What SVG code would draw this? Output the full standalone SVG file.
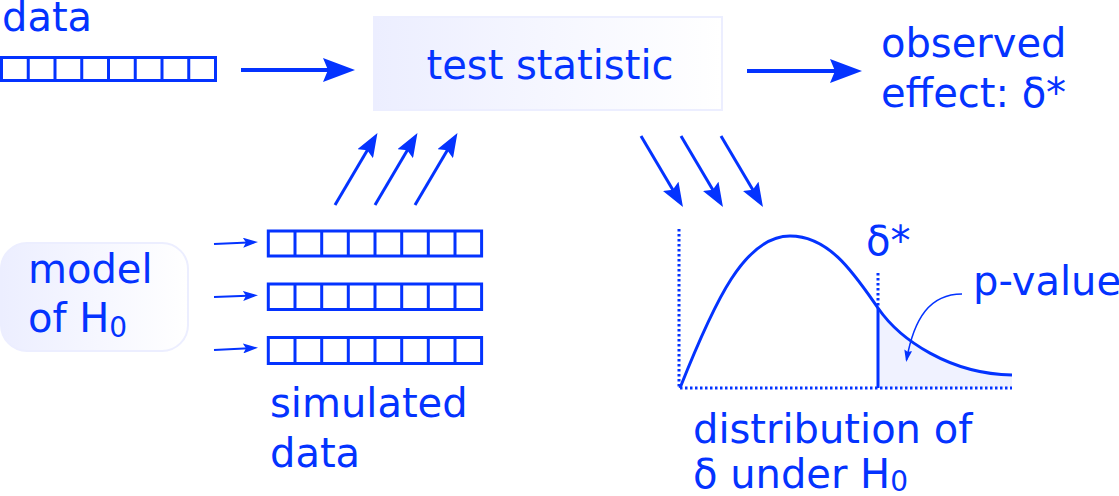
<svg xmlns="http://www.w3.org/2000/svg" width="1119" height="496" viewBox="0 0 1119 496">
<style>
text{font-family:"DejaVu Sans","Liberation Sans",sans-serif;font-size:40px;fill:#0433ff}
.cells{fill:none;stroke:#0433ff;stroke-width:3}
.conn{stroke:#0433ff;fill:none}
.dot{stroke:#0433ff;stroke-width:3;stroke-dasharray:2.5 2.5;fill:none}
</style>
<defs>
<linearGradient id="g" x1="0" y1="0" x2="1" y2="0">
<stop offset="0" stop-color="#eceeff"/>
<stop offset="1" stop-color="#ffffff"/>
</linearGradient>
<marker id="big" viewBox="0 0 32 24" refX="22" refY="12" markerWidth="32" markerHeight="24" markerUnits="userSpaceOnUse" orient="auto">
<path d="M0,0 L32,12 L0,24 L5,12 Z" fill="#0433ff"/>
</marker>
<marker id="mid" viewBox="0 0 24 18" refX="18" refY="9" markerWidth="24" markerHeight="18" markerUnits="userSpaceOnUse" orient="auto">
<path d="M0,0 L24,9 L0,18 L4,9 Z" fill="#0433ff"/>
</marker>
<marker id="small" viewBox="0 0 15 10" refX="11" refY="5" markerWidth="15" markerHeight="10" markerUnits="userSpaceOnUse" orient="auto">
<path d="M0,0 L15,5 L0,10 L3,5 Z" fill="#0433ff"/>
</marker>
<marker id="tiny" viewBox="0 0 12 8" refX="10" refY="4" markerWidth="12" markerHeight="8" markerUnits="userSpaceOnUse" orient="auto">
<path d="M0,0 L12,4 L0,8 L2,4 Z" fill="#0433ff"/>
</marker>
</defs>
<rect width="1119" height="496" fill="#ffffff"/>

<g id="data">
<text x="2" y="30.5">data</text>
<rect class="cells" x="1.5" y="57.5" width="214" height="23"/>
<path class="cells" d="M28.25,57.5V80.5M55,57.5V80.5M81.75,57.5V80.5M108.5,57.5V80.5M135.25,57.5V80.5M162,57.5V80.5M188.75,57.5V80.5"/>
</g>

<g id="test-statistic">
<rect x="374" y="17" width="348" height="93" fill="url(#g)" stroke="#eceeff" stroke-width="2"/>
<text x="550" y="79" text-anchor="middle">test statistic</text>
</g>

<g id="observed-effect">
<text x="881" y="57">observed</text>
<text x="881" y="107">effect: δ*</text>
</g>

<g id="model">
<rect x="1" y="243" width="187" height="108" rx="26" fill="url(#g)" stroke="#eceeff" stroke-width="2"/>
<text x="28" y="283">model</text>
<text x="28" y="332">of H<tspan font-size="28" dy="5">0</tspan></text>
</g>

<g id="simulated-data">
<rect class="cells" x="268.3" y="231" width="213.3" height="25"/>
<path class="cells" d="M295,231V256M321.7,231V256M348.3,231V256M375,231V256M401.7,231V256M428.3,231V256M455,231V256"/>
<rect class="cells" x="268.3" y="284" width="213.3" height="25.5"/>
<path class="cells" d="M295,284V309.5M321.7,284V309.5M348.3,284V309.5M375,284V309.5M401.7,284V309.5M428.3,284V309.5M455,284V309.5"/>
<rect class="cells" x="268.3" y="337.5" width="213.3" height="26"/>
<path class="cells" d="M295,337.5V363.5M321.7,337.5V363.5M348.3,337.5V363.5M375,337.5V363.5M401.7,337.5V363.5M428.3,337.5V363.5M455,337.5V363.5"/>
<text x="270" y="417">simulated</text>
<text x="270" y="467">data</text>
</g>

<g id="distribution">
<path d="M878,388 L878,308 C900,340 950,374 1012,375 L1012,388 Z" fill="#f0f2ff"/>
<path class="dot" d="M679,229 V388 H1012"/>
<path class="dot" d="M878,273 V306"/>
<path d="M680,388 C715,300 745,236 790,236 C830,236 855,275 878,308 C900,340 950,374 1012,375" fill="none" stroke="#0433ff" stroke-width="3"/>
<path d="M878,308 V388" stroke="#0433ff" stroke-width="3"/>
<text x="866" y="255">δ*</text>
<text x="973" y="295">p-value</text>
<text x="693" y="443">distribution of</text>
<text x="693" y="488">δ under H<tspan font-size="28" dy="3">0</tspan></text>
</g>

<g id="connectors">
<path class="conn" stroke-width="4" d="M241,70 H345" marker-end="url(#big)"/>
<path class="conn" stroke-width="4" d="M747,71 H852" marker-end="url(#big)"/>
<path class="conn" stroke-width="3" d="M335,205 L374.4,138.2" marker-end="url(#mid)"/>
<path class="conn" stroke-width="3" d="M375,205 L414.4,138.2" marker-end="url(#mid)"/>
<path class="conn" stroke-width="3" d="M415,205 L454.4,138.2" marker-end="url(#mid)"/>
<path class="conn" stroke-width="3" d="M641,136 L679.9,201.8" marker-end="url(#mid)"/>
<path class="conn" stroke-width="3" d="M681,136 L719.9,201.8" marker-end="url(#mid)"/>
<path class="conn" stroke-width="3" d="M721,136 L759.9,201.8" marker-end="url(#mid)"/>
<path class="conn" stroke-width="2" d="M214,244 L254,242.2" marker-end="url(#small)"/>
<path class="conn" stroke-width="2" d="M214,297 L254,295.5" marker-end="url(#small)"/>
<path class="conn" stroke-width="2" d="M214,350 L254,347.9" marker-end="url(#small)"/>
<path class="conn" stroke-width="1.5" d="M962,294 C930,294 914,318 906.5,360" marker-end="url(#tiny)"/>
</g>
</svg>
